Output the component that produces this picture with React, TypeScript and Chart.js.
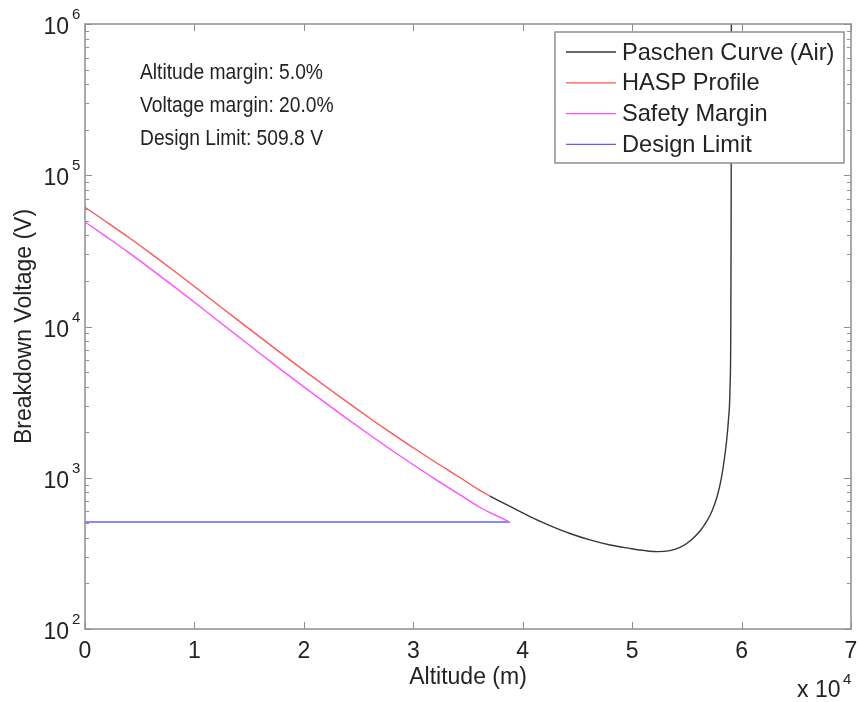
import React, { useEffect, useRef } from "react";
import { Chart, registerables } from "chart.js";

Chart.register(...registerables);

// ---------------- data ----------------
const paschenAltitude = [37000, 38840, 40665, 42490, 44320, 46150, 47980, 49800, 51170, 52360, 53460, 54370, 55290, 56200, 56840, 57300, 57750, 58120, 58390, 58620, 58800, 58940, 59015, 59050, 59070];
const paschenVoltage = [757, 646, 554, 483, 428, 388, 359, 341, 330, 325, 330, 346, 382, 445, 518, 603, 746, 966, 1271, 1723, 2409, 3804, 9483, 68600, 2000000];

const haspAltitude = [0, 2000, 4000, 6000, 8000, 10000, 12000, 14000, 16000, 18000, 20000, 22000, 24000, 26000, 28000, 30000, 32000, 34000, 36000, 37000];
const haspVoltage = [61400, 48900, 38760, 30420, 23730, 18380, 14200, 10970, 8500, 6595, 5131, 4011, 3150, 2485, 1973, 1579, 1271, 1031, 832, 757];

const safetyAltitude = [0, 2000, 4000, 6000, 8000, 10000, 12000, 14000, 16000, 18000, 20000, 22000, 24000, 26000, 28000, 30000, 32000, 34000, 36000, 37000, 38000, 38800];
const safetyVoltage = [49100, 38970, 30780, 24060, 18700, 14450, 11130, 8580, 6630, 5130, 3987, 3113, 2441, 1923, 1525, 1219, 980, 794, 643, 588, 544, 509.8];

const designAltitude = [0, 38800];
const designVoltage = [509.8, 509.8];

const seriesNames = ["Paschen Curve (Air)", "HASP Profile", "Safety Margin", "Design Limit"];
const seriesColors = ["rgb(55,55,55)", "rgb(255,85,85)", "rgb(255,80,255)", "rgb(95,95,255)"];

const xTickValues = [0, 10000, 20000, 30000, 40000, 50000, 60000, 70000];
const xTickLabels = ["0", "1", "2", "3", "4", "5", "6", "7"];
const xExponentLabel = "4";
const yTickExponents = [2, 3, 4, 5, 6];

const annotationLines = ["Altitude margin: 5.0%", "Voltage margin: 20.0%", "Design Limit: 509.8 V"];
const xTitle = "Altitude (m)";
const yTitle = "Breakdown Voltage (V)";

const FONT = '"Liberation Sans", Arial, Helvetica, sans-serif';
const TEXT = "#232323";
const FRAME = "#8e8e8e";

const toPoints = (xs: number[], ys: number[]) => xs.map((x, i) => ({ x, y: ys[i] }));

const framePlugin = {
  id: "matlabFrame",
  afterDraw(chart: any) {
    const ctx: CanvasRenderingContext2D = chart.ctx;
    const { left, right, top, bottom } = chart.chartArea;
    const xs = chart.scales.x;
    const ys = chart.scales.y;
    ctx.save();
    // box
    ctx.strokeStyle = FRAME;
    ctx.lineWidth = 1.5;
    ctx.strokeRect(left, top, right - left, bottom - top);
    // x ticks
    ctx.lineWidth = 1;
    ctx.beginPath();
    xTickValues.forEach((v) => {
      const px = Math.round(xs.getPixelForValue(v)) + 0.5;
      ctx.moveTo(px, bottom);
      ctx.lineTo(px, bottom - 7);
      ctx.moveTo(px, top);
      ctx.lineTo(px, top + 7);
    });
    // y ticks (log, major + minor)
    const eMin = yTickExponents[0];
    const eMax = yTickExponents[yTickExponents.length - 1];
    for (let e = eMin; e <= eMax; e++) {
      for (let m = 1; m <= 9; m++) {
        if (e === eMax && m > 1) break;
        const py = Math.round(ys.getPixelForValue(m * Math.pow(10, e))) + 0.5;
        const len = m === 1 ? 7 : 4;
        ctx.moveTo(left, py);
        ctx.lineTo(left + len, py);
        ctx.moveTo(right, py);
        ctx.lineTo(right - len, py);
      }
    }
    ctx.stroke();

    // tick labels
    ctx.fillStyle = TEXT;
    ctx.font = `23px ${FONT}`;
    ctx.textAlign = "center";
    ctx.textBaseline = "alphabetic";
    xTickValues.forEach((v, i) => {
      ctx.fillText(xTickLabels[i], xs.getPixelForValue(v), bottom + 29);
    });
    yTickExponents.forEach((e) => {
      const py = ys.getPixelForValue(Math.pow(10, e));
      ctx.font = `23px ${FONT}`;
      ctx.textAlign = "right";
      ctx.fillText("10", left - 16, py + 10);
      ctx.font = `15px ${FONT}`;
      ctx.textAlign = "left";
      ctx.fillText(String(e), left - 13, py - 5);
    });
    // x exponent
    ctx.font = `23px ${FONT}`;
    ctx.textAlign = "left";
    ctx.fillText("x 10", right - 54, bottom + 68);
    ctx.font = `15px ${FONT}`;
    ctx.fillText(xExponentLabel, right - 8, bottom + 55);

    // axis titles
    ctx.font = `23px ${FONT}`;
    ctx.textAlign = "center";
    ctx.fillText(xTitle, (left + right) / 2, bottom + 55);
    ctx.save();
    ctx.translate(31, (top + bottom) / 2);
    ctx.rotate(-Math.PI / 2);
    ctx.fillText(yTitle, 0, 0);
    ctx.restore();

    // annotation (narrower text, as in the reference)
    ctx.textAlign = "left";
    ctx.font = `22px ${FONT}`;
    annotationLines.forEach((t, i) => {
      ctx.save();
      ctx.translate(left + 55, top + 55 + i * 33);
      ctx.scale(0.875, 1);
      ctx.fillText(t, 0, 0);
      ctx.restore();
    });

    // legend
    const lx = 555, ly = 32, lw = 289, lh = 131;
    ctx.fillStyle = "#ffffff";
    ctx.fillRect(lx, ly, lw, lh);
    ctx.strokeStyle = FRAME;
    ctx.lineWidth = 1.5;
    ctx.strokeRect(lx, ly, lw, lh);
    seriesNames.forEach((name, i) => {
      const yy = ly + 20 + i * 30.8;
      ctx.strokeStyle = seriesColors[i];
      ctx.lineWidth = 1.3;
      ctx.beginPath();
      ctx.moveTo(lx + 11, yy);
      ctx.lineTo(lx + 61, yy);
      ctx.stroke();
      ctx.fillStyle = TEXT;
      ctx.font = `23.6px ${FONT}`;
      ctx.textAlign = "left";
      ctx.fillText(name, lx + 67, yy + 7.5);
    });
    ctx.restore();
  },
};

export default function App() {
  const ref = useRef<HTMLCanvasElement | null>(null);
  useEffect(() => {
    document.body.style.margin = "0";
    const canvas = ref.current;
    if (!canvas) return;
    const dsBase = {
      pointRadius: 0,
      borderWidth: 1.4,
      fill: false,
      cubicInterpolationMode: "monotone" as const,
    };
    const chart = new Chart(canvas, {
      type: "line",
      data: {
        datasets: [
          { ...dsBase, label: seriesNames[0], data: toPoints(paschenAltitude, paschenVoltage), borderColor: seriesColors[0] },
          { ...dsBase, label: seriesNames[1], data: toPoints(haspAltitude, haspVoltage), borderColor: seriesColors[1] },
          { ...dsBase, label: seriesNames[2], data: toPoints(safetyAltitude, safetyVoltage), borderColor: seriesColors[2] },
          { ...dsBase, label: seriesNames[3], data: toPoints(designAltitude, designVoltage), borderColor: seriesColors[3] },
        ],
      },
      options: {
        responsive: false,
        maintainAspectRatio: false,
        devicePixelRatio: 1,
        animation: false,
        layout: { padding: { left: 85, top: 24, right: 7, bottom: 73 } },
        plugins: { legend: { display: false }, tooltip: { enabled: false } },
        scales: {
          x: { type: "linear", min: 0, max: 70000, display: false },
          y: { type: "logarithmic", min: 100, max: 1000000, display: false },
        },
      },
      plugins: [framePlugin],
    });
    return () => chart.destroy();
  }, []);
  return (
    <div style={{ width: 858, height: 702, background: "#fff" }}>
      <canvas ref={ref} width={858} height={702} style={{ display: "block" }} />
    </div>
  );
}
